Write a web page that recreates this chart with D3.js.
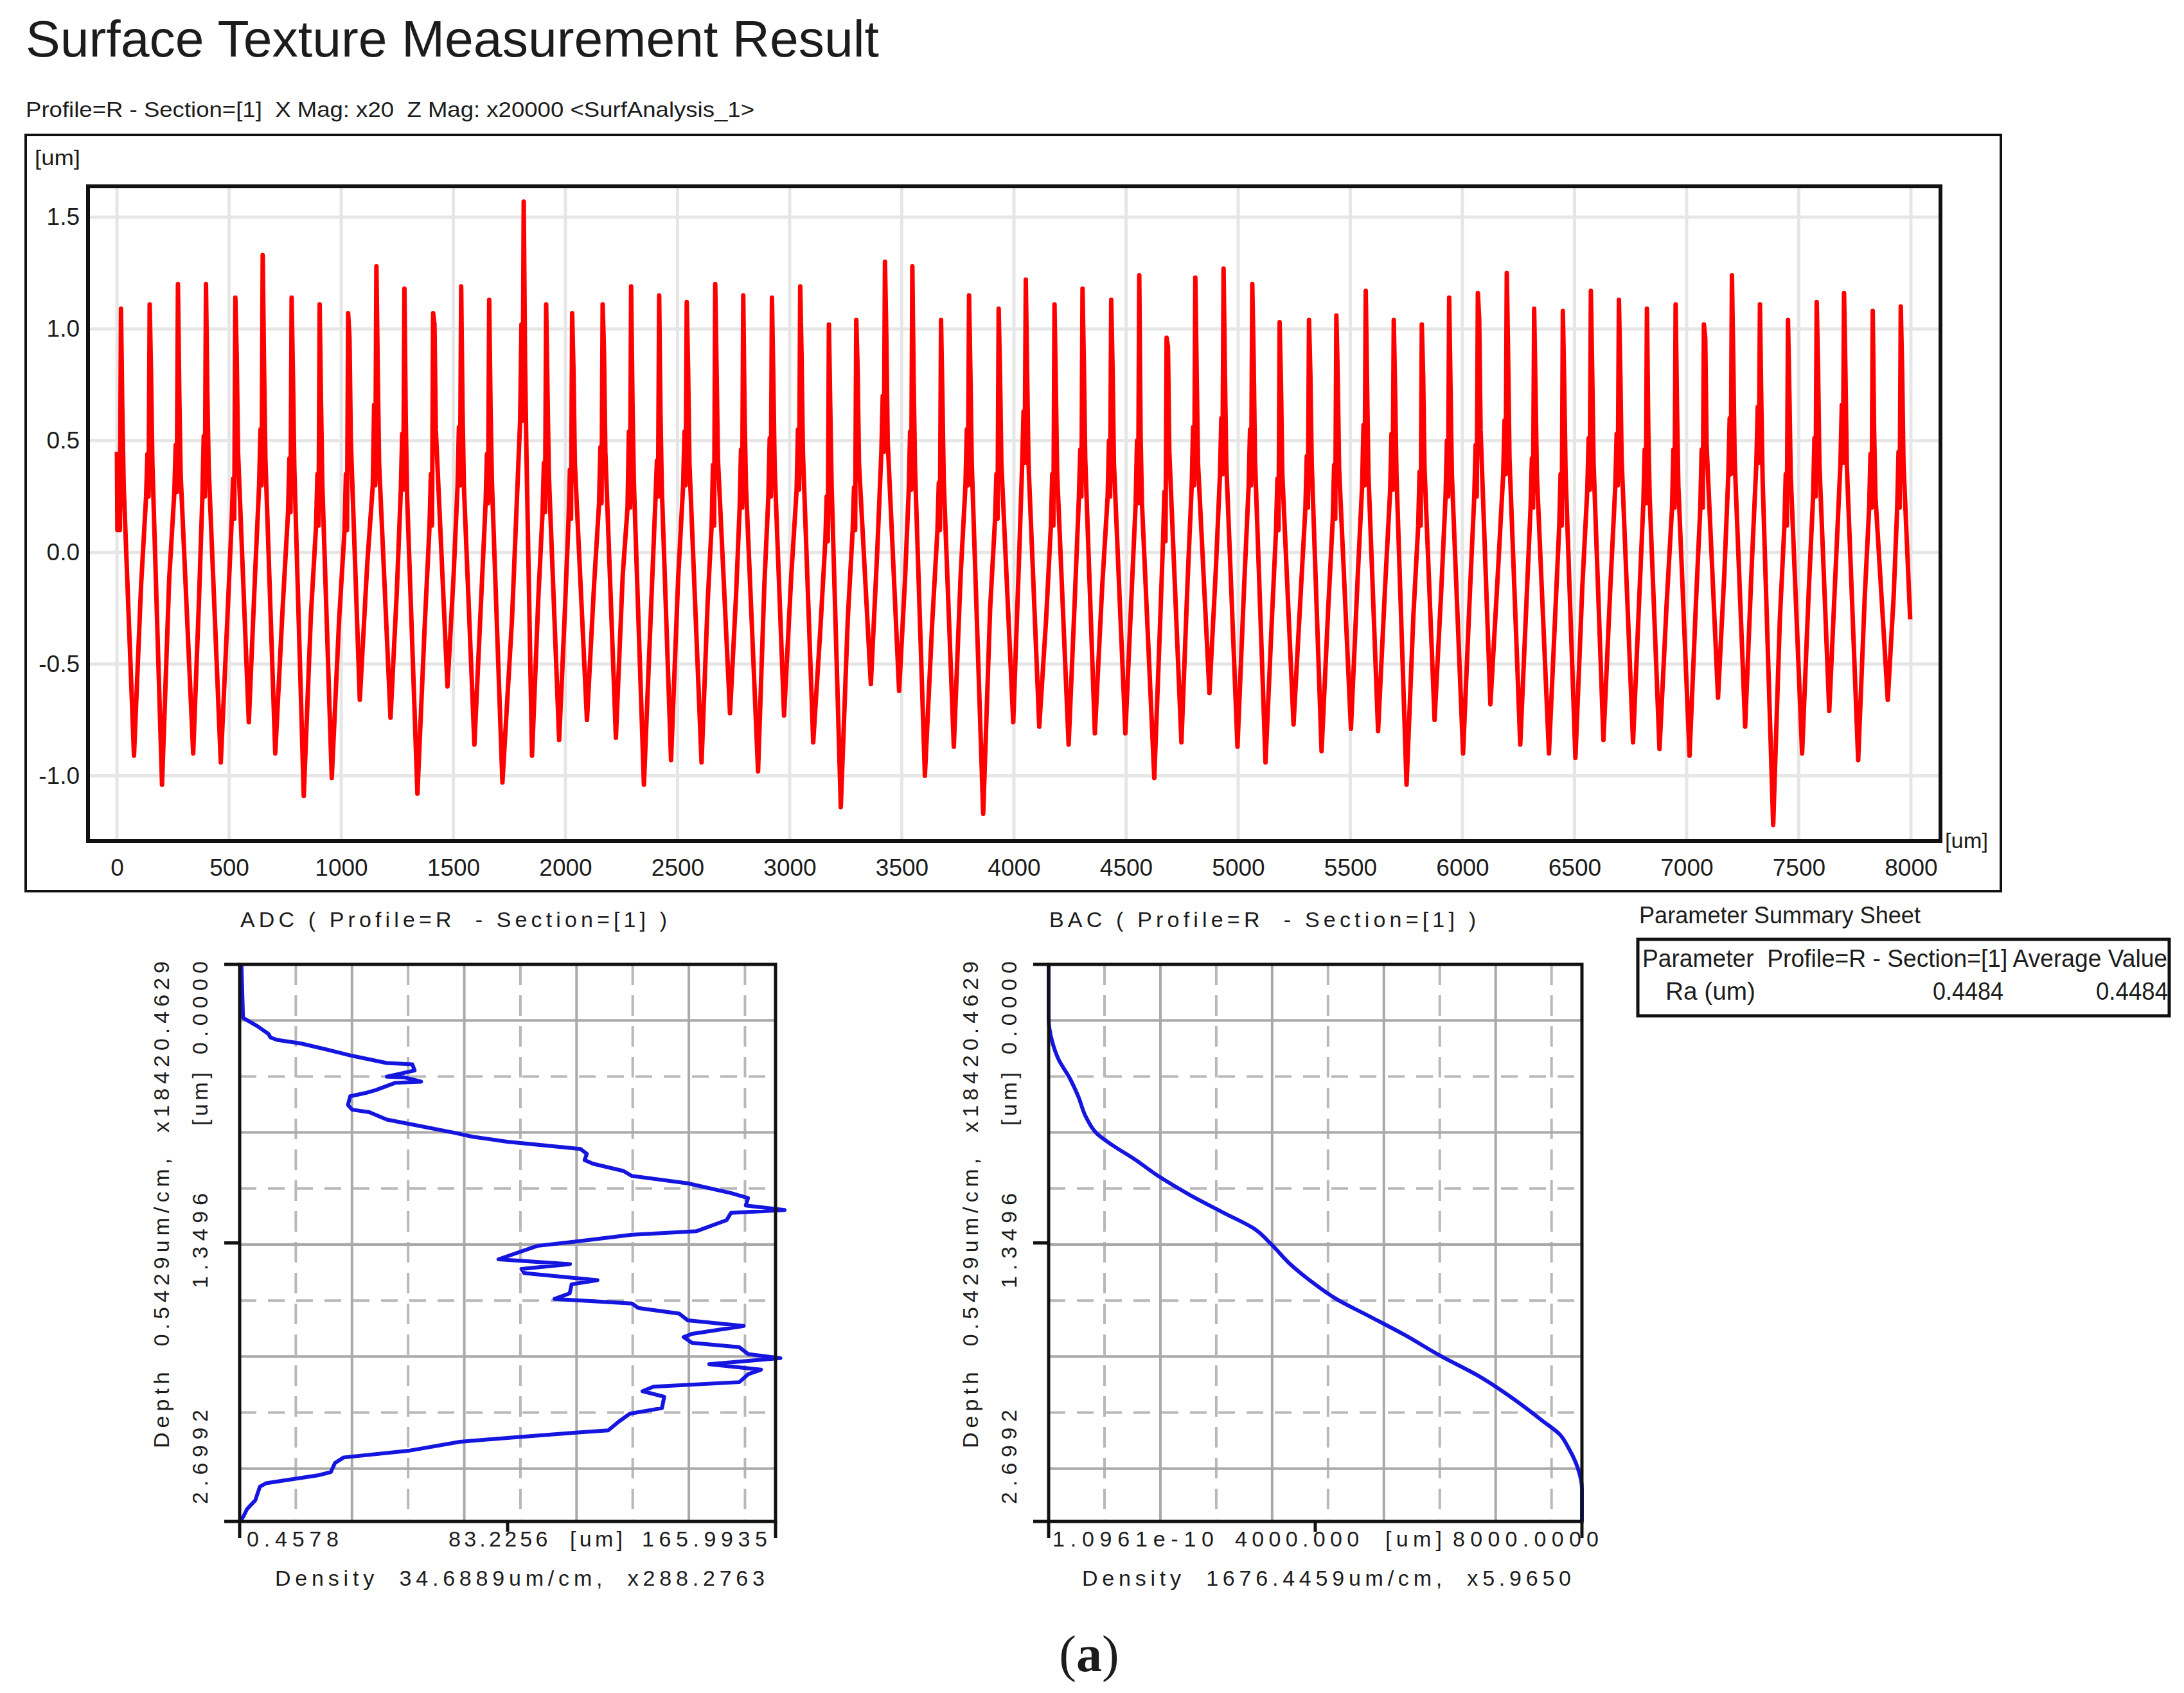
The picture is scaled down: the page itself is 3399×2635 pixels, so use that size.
<!DOCTYPE html>
<html>
<head>
<meta charset="utf-8">
<script src="https://cdn.jsdelivr.net/npm/d3@7"></script>
<style>
  body { margin: 0; background: #fff; }
  svg text { font-family: "Liberation Sans", Arial, sans-serif; fill: #1c1c1c; white-space: pre; }
</style>
</head>
<body>
<div id="chart"></div>
<script>
// ---- roughness profile (um) : peaks / valleys ----
const peakX = [18, 146, 272, 397, 528, 650, 779, 904, 1031, 1157, 1282, 1410, 1535, 1660, 1814, 1914, 2030,
  2166, 2293, 2418, 2541, 2668, 2793, 2921, 3047, 3175, 3297, 3425, 3547, 3675, 3800, 3932,
  4053, 4181, 4306, 4434, 4559, 4681, 4809, 4935, 5063, 5185, 5316, 5438, 5569, 5694, 5819, 5941,
  6069, 6198, 6320, 6448, 6573, 6698, 6823, 6951, 7077, 7202, 7327, 7452, 7580, 7702, 7830, 7955];
const peakY = [1.09, 1.11, 1.20, 1.20, 1.14, 1.33, 1.14, 1.11, 1.07, 1.28, 1.18, 1.07, 1.19, 1.13, 1.57, 1.11, 1.07,
  1.11, 1.19, 1.15, 1.12, 1.20, 1.15, 1.14, 1.19, 1.02, 1.04, 1.30, 1.28, 1.04, 1.15, 1.09,
  1.22, 1.11, 1.18, 1.13, 1.24, 0.96, 1.23, 1.27, 1.20, 1.03, 1.04, 1.06, 1.17, 1.04, 1.02, 1.14,
  1.16, 1.25, 1.09, 1.08, 1.17, 1.13, 1.09, 1.11, 1.02, 1.24, 1.11, 1.04, 1.12, 1.16, 1.08, 1.10];
const valleyX = [76, 201, 340, 463, 588, 706, 833, 958, 1083, 1220, 1340, 1474, 1594, 1719, 1851, 1972,
  2096, 2225, 2350, 2471, 2607, 2734, 2859, 2975, 3105, 3228, 3362, 3488, 3603, 3732, 3863, 3997,
  4113, 4244, 4361, 4497, 4626, 4747, 4872, 4997, 5122, 5247, 5372, 5503, 5624, 5751, 5876, 6003,
  6125, 6258, 6386, 6504, 6629, 6761, 6879, 7013, 7140, 7261, 7386, 7515, 7636, 7765, 7897];
const valleyY = [-0.91, -1.04, -0.90, -0.94, -0.76, -0.90, -1.09, -1.01, -0.66, -0.74, -1.08, -0.60, -0.86, -1.03, -0.91, -0.84,
  -0.75, -0.83, -1.04, -0.93, -0.94, -0.72, -0.98, -0.73, -0.85, -1.14, -0.59, -0.62, -1.00, -0.87, -1.17, -0.76,
  -0.78, -0.86, -0.81, -0.81, -1.01, -0.85, -0.63, -0.87, -0.94, -0.77, -0.89, -0.79, -0.80, -1.04, -0.75, -0.90,
  -0.68, -0.86, -0.90, -0.92, -0.84, -0.85, -0.88, -0.91, -0.65, -0.78, -1.22, -0.90, -0.71, -0.93, -0.66];
// band levels just before each peak (top / bottom) and just after it
const preTop = [0.44, 0.44, 0.48, 0.52, 0.33, 0.55, 0.42, 0.35, 0.35, 0.66, 0.53, 0.35, 0.56, 0.44, 1.02, 0.40, 0.37,
  0.47, 0.54, 0.41, 0.54, 0.39, 0.46, 0.51, 0.55, 0.25, 0.29, 0.70, 0.54, 0.31, 0.55, 0.35,
  0.63, 0.35, 0.46, 0.50, 0.50, 0.27, 0.56, 0.60, 0.55, 0.33, 0.43, 0.39, 0.57, 0.53, 0.36, 0.50,
  0.48, 0.59, 0.42, 0.35, 0.51, 0.53, 0.46, 0.46, 0.46, 0.60, 0.65, 0.35, 0.51, 0.66, 0.44, 0.45];
const preLow = [0.10, 0.25, 0.27, 0.25, 0.15, 0.30, 0.18, 0.12, 0.10, 0.30, 0.28, 0.12, 0.30, 0.22, 0.59, 0.18, 0.15,
  0.22, 0.20, 0.25, 0.30, 0.12, 0.20, 0.25, 0.28, 0.05, 0.10, 0.45, 0.28, 0.10, 0.30, 0.15,
  0.40, 0.12, 0.25, 0.25, 0.22, 0.05, 0.30, 0.35, 0.30, 0.10, 0.20, 0.15, 0.30, 0.28, 0.12, 0.25,
  0.25, 0.35, 0.20, 0.12, 0.28, 0.30, 0.22, 0.20, 0.20, 0.35, 0.40, 0.12, 0.25, 0.40, 0.20, 0.20];
const postTop = [0.63, 0.80, 0.71, 0.72, 0.88, 0.83, 0.78, 0.67, 0.96, 0.81, 0.59, 1.02, 0.65, 0.65, 0.85, 0.72, 0.81,
  0.90, 0.67, 0.61, 0.82, 0.82, 0.62, 0.78, 0.88, 0.65, 0.82, 0.97, 0.76, 0.70, 0.80, 0.80,
  0.80, 0.73, 0.84, 0.82, 0.52, 0.92, 0.80, 0.80, 0.87, 0.75, 0.80, 0.79, 0.74, 0.72, 0.79, 0.74,
  1.04, 0.87, 0.73, 0.76, 0.80, 0.82, 0.55, 0.65, 0.96, 0.86, 0.67, 0.72, 0.83, 0.82, 0.55, 0.82];
const postLow = [0.30, 0.40, 0.35, 0.38, 0.45, 0.42, 0.38, 0.30, 0.50, 0.40, 0.25, 0.55, 0.30, 0.32, 0.45, 0.35, 0.40,
  0.45, 0.32, 0.28, 0.40, 0.42, 0.30, 0.38, 0.45, 0.30, 0.40, 0.50, 0.38, 0.32, 0.40, 0.40,
  0.40, 0.35, 0.42, 0.40, 0.22, 0.45, 0.40, 0.40, 0.42, 0.35, 0.40, 0.38, 0.35, 0.35, 0.38, 0.35,
  0.55, 0.42, 0.35, 0.36, 0.40, 0.42, 0.25, 0.30, 0.48, 0.42, 0.32, 0.35, 0.40, 0.40, 0.25, 0.40];
// step on each rising flank (cycles 2..64)
const riseKink = [-0.15, -0.12, -0.22, -0.30, -0.10, -0.25, -0.28, -0.30, -0.05, -0.18, -0.35, -0.10, -0.22, -0.30, -0.20, -0.25,
  -0.15, -0.10, -0.28, -0.12, -0.22, -0.20, -0.15, -0.10, -0.35, -0.30, 0.0, -0.12, -0.32, -0.10, -0.25,
  -0.05, -0.30, -0.20, -0.15, -0.18, -0.35, -0.12, -0.08, -0.15, -0.30, -0.20, -0.25, -0.12, -0.15, -0.28, -0.18,
  -0.20, -0.10, -0.22, -0.28, -0.15, -0.15, -0.20, -0.22, -0.22, -0.10, -0.05, -0.30, -0.18, -0.05, -0.20, -0.20];
const profileStart = [0, 0.45];
const profileEnd = [7997, -0.30];
const profileXTicks = [0, 500, 1000, 1500, 2000, 2500, 3000, 3500, 4000, 4500, 5000, 5500, 6000, 6500, 7000, 7500, 8000];
const profileYTicks = [-1.0, -0.5, 0.0, 0.5, 1.0, 1.5];

// ---- ADC (amplitude distribution) ----
const adcDepth = [0.000, 0.259, 0.300, 0.336, 0.354, 0.366, 0.383, 0.407, 0.443, 0.478, 0.484, 0.514, 0.544, 0.547, 0.568, 0.574,
  0.609, 0.621, 0.639, 0.681, 0.704, 0.716, 0.752, 0.776, 0.817, 0.835, 0.859, 0.894, 0.918, 0.948, 0.966, 1.001, 1.025,
  1.061, 1.108, 1.132, 1.168, 1.190, 1.204, 1.239, 1.293, 1.310, 1.340, 1.364, 1.429, 1.452, 1.476, 1.496, 1.530, 1.550,
  1.594, 1.621, 1.643, 1.665, 1.692, 1.725, 1.752, 1.790, 1.806, 1.834, 1.855, 1.888, 1.908, 1.937, 1.964, 1.986, 2.024,
  2.046, 2.068, 2.095, 2.150, 2.177, 2.215, 2.258, 2.269, 2.291, 2.313, 2.357, 2.389, 2.416, 2.460, 2.476, 2.514, 2.531,
  2.596, 2.640, 2.673, 2.699];
const adcDensity = [1.0, 1.5, 6.0, 9.3, 10.0, 12.0, 19.3, 25.9, 35.2, 45.9, 53.8, 54.5, 45.9, 51.2, 56.5, 48.5,
  42.5, 39.9, 34.6, 33.9, 35.2, 40.5, 45.9, 53.8, 67.1, 72.4, 83.1, 105.7, 107.7, 107.0, 109.6, 119.0, 121.6,
  138.9, 152.2, 157.5, 156.8, 168.8, 152.2, 150.9, 141.5, 121.6, 105.7, 92.4, 80.4, 102.5, 87.5, 88.4, 111.0, 103.0,
  102.4, 97.7, 121.6, 123.6, 136.2, 138.9, 156.2, 140.2, 137.6, 140.2, 154.8, 157.5, 167.5, 145.5, 161.5, 157.5, 154.8,
  128.3, 124.9, 131.6, 130.9, 121.0, 117.6, 114.3, 104.3, 85.7, 68.5, 52.5, 32.6, 29.9, 28.6, 24.6, 8.6, 6.7,
  5.3, 2.7, 1.7, 0.6];
const adcDomain = [0.4578, 165.9935];

// ---- BAC (bearing area curve) ----
const bacDepth = [0, 0.263, 0.373, 0.461, 0.548, 0.636, 0.745, 0.822, 0.876, 0.942, 1.030, 1.117, 1.205, 1.281,
  1.358, 1.446, 1.533, 1.621, 1.708, 1.796, 1.894, 1.993, 2.102, 2.212, 2.278, 2.343, 2.431, 2.540, 2.699];
const bacLength = [0, 0, 53, 150, 311, 440, 569, 731, 957, 1279, 1667, 2118, 2635, 3086,
  3345, 3603, 3926, 4313, 4829, 5345, 5862, 6443, 6959, 7411, 7669, 7798, 7927, 8000, 8000];
const bacDomain = [0, 8000];

const depthDomain = [0, 2.6992];
const depthCell = 0.5429 / 2;

// ---- texts ----
const mainTitle = 'Surface Texture Measurement Result';
const subTitle = 'Profile=R - Section=[1]  X Mag: x20  Z Mag: x20000 <SurfAnalysis_1>';
const depthAxisTitle = 'Depth  0.5429um/cm,  x18420.4629';
const depthTickLabels = ['0.0000', '[um]', '1.3496', '2.6992'];

const W = 3399, H = 2635;
const svg = d3.select('#chart').append('svg').attr('width', W).attr('height', H);
svg.append('rect').attr('width', W).attr('height', H).attr('fill', '#fff');

function label(g, str, x, y, size, len, adjust) {
  const t = g.append('text').attr('x', x).attr('y', y).attr('font-size', size).text(str);
  if (len) t.attr('textLength', len).attr('lengthAdjust', adjust || 'spacingAndGlyphs');
  return t;
}

label(svg, mainTitle, 40, 88, 80, 1328);
label(svg, subTitle, 40, 182, 34, 1134);

// ===== main profile chart =====
svg.append('rect').attr('x', 40).attr('y', 210).attr('width', 3074).attr('height', 1177)
  .attr('fill', 'none').attr('stroke', '#111').attr('stroke-width', 4);

const x = d3.scaleLinear().domain([-129, 8132]).range([137, 3020]);
const y = d3.scaleLinear().domain([-1.292, 1.638]).range([1309, 290]);

const grid = svg.append('g').attr('stroke', '#e6e6e6').attr('stroke-width', 5);
grid.selectAll('.vx').data(profileXTicks).enter().append('line')
  .attr('x1', d => x(d)).attr('x2', d => x(d)).attr('y1', y.range()[1]).attr('y2', y.range()[0]);
grid.selectAll('.hy').data(profileYTicks).enter().append('line')
  .attr('x1', x.range()[0]).attr('x2', x.range()[1]).attr('y1', d => y(d)).attr('y2', d => y(d));

// build the trace from the read-off levels
const profilePoints = [profileStart];
peakX.forEach((pu, i) => {
  if (i > 0) {
    const vPrev = valleyX[i - 1];
    profilePoints.push([vPrev + 0.45 * (pu - vPrev), riseKink[i - 1]]);
  }
  profilePoints.push([pu - 16, preLow[i]], [pu - 10, preTop[i]], [pu - 5, preLow[i]], [pu, peakY[i]],
    [pu + 6, postTop[i]], [pu + 12, postLow[i]]);
  if (i < valleyX.length) profilePoints.push([valleyX[i], valleyY[i]]);
});
profilePoints.push(profileEnd);

svg.append('path').datum(profilePoints)
  .attr('fill', 'none').attr('stroke', '#ff0000').attr('stroke-width', 7).attr('stroke-linejoin', 'round')
  .attr('d', d3.line().x(d => x(d[0])).y(d => y(d[1])));

svg.append('rect').attr('x', 137).attr('y', 290).attr('width', 3020 - 137).attr('height', 1309 - 290)
  .attr('fill', 'none').attr('stroke', '#111').attr('stroke-width', 6);

const xAxis = svg.append('g').attr('transform', 'translate(0,1337)')
  .call(d3.axisBottom(x).tickValues(profileXTicks).tickSize(0).tickPadding(0).tickFormat(d => String(d)));
const yAxis = svg.append('g').attr('transform', 'translate(124,0)')
  .call(d3.axisLeft(y).tickValues(profileYTicks).tickSize(0).tickPadding(0).tickFormat(d => d.toFixed(1)));
[xAxis, yAxis].forEach(g => {
  g.select('.domain').remove();
  g.attr('font-size', 37).attr('font-family', '"Liberation Sans", Arial, sans-serif');
  g.selectAll('text').attr('fill', '#1c1c1c');
});
label(svg, '[um]', 54, 257, 34, 71);
label(svg, '[um]', 3027, 1320, 34, 67);

// ===== density charts =====
function densityChart(cfg) {
  const g = svg.append('g');
  const sx = d3.scaleLinear().domain(cfg.domain).range([cfg.left, cfg.right]);
  const sy = d3.scaleLinear().domain(depthDomain).range([cfg.top, cfg.bottom]);
  const cellX = cfg.cellX;

  const vLines = d3.range(1, 10).map(k => cfg.domain[0] + k * cellX);
  const hLines = d3.range(1, 10).map(k => k * depthCell);
  g.selectAll('.gv').data(vLines).enter().append('line')
    .attr('x1', d => sx(d)).attr('x2', d => sx(d)).attr('y1', cfg.top).attr('y2', cfg.bottom)
    .attr('stroke', (d, i) => i % 2 === 0 ? '#b8b8b8' : '#a9a9a9').attr('stroke-width', 4)
    .attr('stroke-dasharray', (d, i) => i % 2 === 0 ? '32,16' : null);
  g.selectAll('.gh').data(hLines).enter().append('line')
    .attr('x1', cfg.left).attr('x2', cfg.right).attr('y1', d => sy(d)).attr('y2', d => sy(d))
    .attr('stroke', (d, i) => i % 2 === 0 ? '#a9a9a9' : '#b8b8b8').attr('stroke-width', 4)
    .attr('stroke-dasharray', (d, i) => i % 2 === 0 ? null : '26,18');

  g.append('path').datum(cfg.depth.map((d, i) => [cfg.values[i], d]))
    .attr('fill', 'none').attr('stroke', '#1515e0').attr('stroke-width', 6).attr('stroke-linejoin', 'round')
    .attr('d', d3.line().x(d => sx(d[0])).y(d => sy(d[1])).curve(cfg.curve));

  // frame and ticks
  const k = g.append('g').attr('stroke', '#111').attr('stroke-width', 5).attr('fill', 'none');
  k.append('rect').attr('x', cfg.left).attr('y', cfg.top)
    .attr('width', cfg.right - cfg.left).attr('height', cfg.bottom - cfg.top);
  const midDepth = (depthDomain[0] + depthDomain[1]) / 2;
  [depthDomain[0], midDepth, depthDomain[1]].forEach(d =>
    k.append('line').attr('x1', cfg.left - 24).attr('x2', cfg.left).attr('y1', sy(d)).attr('y2', sy(d)));
  k.append('line').attr('x1', cfg.left).attr('x2', cfg.left).attr('y1', cfg.bottom).attr('y2', cfg.bottom + 26);
  k.append('line').attr('x1', cfg.right).attr('x2', cfg.right).attr('y1', cfg.bottom).attr('y2', cfg.bottom + 26);
  const midX = sx((cfg.domain[0] + cfg.domain[1]) / 2);
  k.append('line').attr('x1', midX).attr('x2', midX).attr('y1', cfg.bottom).attr('y2', cfg.bottom + 16);

  // texts
  label(g, cfg.title, cfg.left + 1, 1443, 34, 664, 'spacing');
  const rot = (str, bx, yStart, len) => g.append('text')
    .attr('transform', `translate(${bx},${yStart}) rotate(-90)`)
    .attr('font-size', 34).attr('textLength', len).attr('lengthAdjust', 'spacing').text(str);
  rot(depthAxisTitle, cfg.left - 110, 2254, 758);
  rot(depthTickLabels[0], cfg.left - 50, 1641, 145);
  rot(depthTickLabels[1], cfg.left - 50, 1752, 83);
  rot(depthTickLabels[2], cfg.left - 50, 2005, 148);
  rot(depthTickLabels[3], cfg.left - 50, 2341, 147);
  cfg.xLabels.forEach((s, i) => label(g, s, cfg.xLabelPos[i][0], 2407, 34, cfg.xLabelPos[i][1], 'spacing'));
  label(g, cfg.densityTitle, cfg.left + cfg.densityPos[0], 2468, 34, cfg.densityPos[1], 'spacing');
}

densityChart({
  left: 373, right: 1207, top: 1501, bottom: 2368,
  domain: adcDomain, cellX: 34.6889 / 2,
  depth: adcDepth, values: adcDensity, curve: d3.curveLinear,
  title: 'ADC ( Profile=R  - Section=[1] )',
  xLabels: ['0.4578', '83.2256  [um]', '165.9935'],
  xLabelPos: [[384, 143], [698, 271], [999, 195]],
  densityTitle: 'Density  34.6889um/cm,  x288.2763', densityPos: [55, 762]
});
densityChart({
  left: 1632, right: 2462, top: 1501, bottom: 2368,
  domain: bacDomain, cellX: 1676.4459 / 2,
  depth: bacDepth, values: bacLength, curve: d3.curveMonotoneY,
  title: 'BAC ( Profile=R  - Section=[1] )',
  xLabels: ['1.0961e-10', '4000.000  [um]', '8000.0000'],
  xLabelPos: [[1638, 251], [1922, 322], [2261, 227]],
  densityTitle: 'Density  1676.4459um/cm,  x5.9650', densityPos: [52, 761]
});

// ===== parameter summary =====
label(svg, 'Parameter Summary Sheet', 2551, 1437, 36, 438);
svg.append('rect').attr('x', 2549).attr('y', 1462).attr('width', 827).attr('height', 119)
  .attr('fill', 'none').attr('stroke', '#111').attr('stroke-width', 5);
label(svg, 'Parameter  Profile=R - Section=[1] Average Value', 2556, 1505, 38, 817);
label(svg, 'Ra (um)', 2592, 1556, 38, 140);
label(svg, '0.4484', 3008, 1556, 38, 110);
label(svg, '0.4484', 3262, 1556, 38, 112);

svg.append('text').attr('x', 1695).attr('y', 2601).attr('text-anchor', 'middle')
  .attr('font-size', 80).attr('font-family', '"Liberation Serif", "Times New Roman", serif')
  .style('font-family', '"Liberation Serif", "Times New Roman", serif')
  .text('(').append('tspan').attr('font-weight', 'bold').text('a')
  .select(function () { return this.parentNode; }).append('tspan').text(')');
</script>
</body>
</html>
